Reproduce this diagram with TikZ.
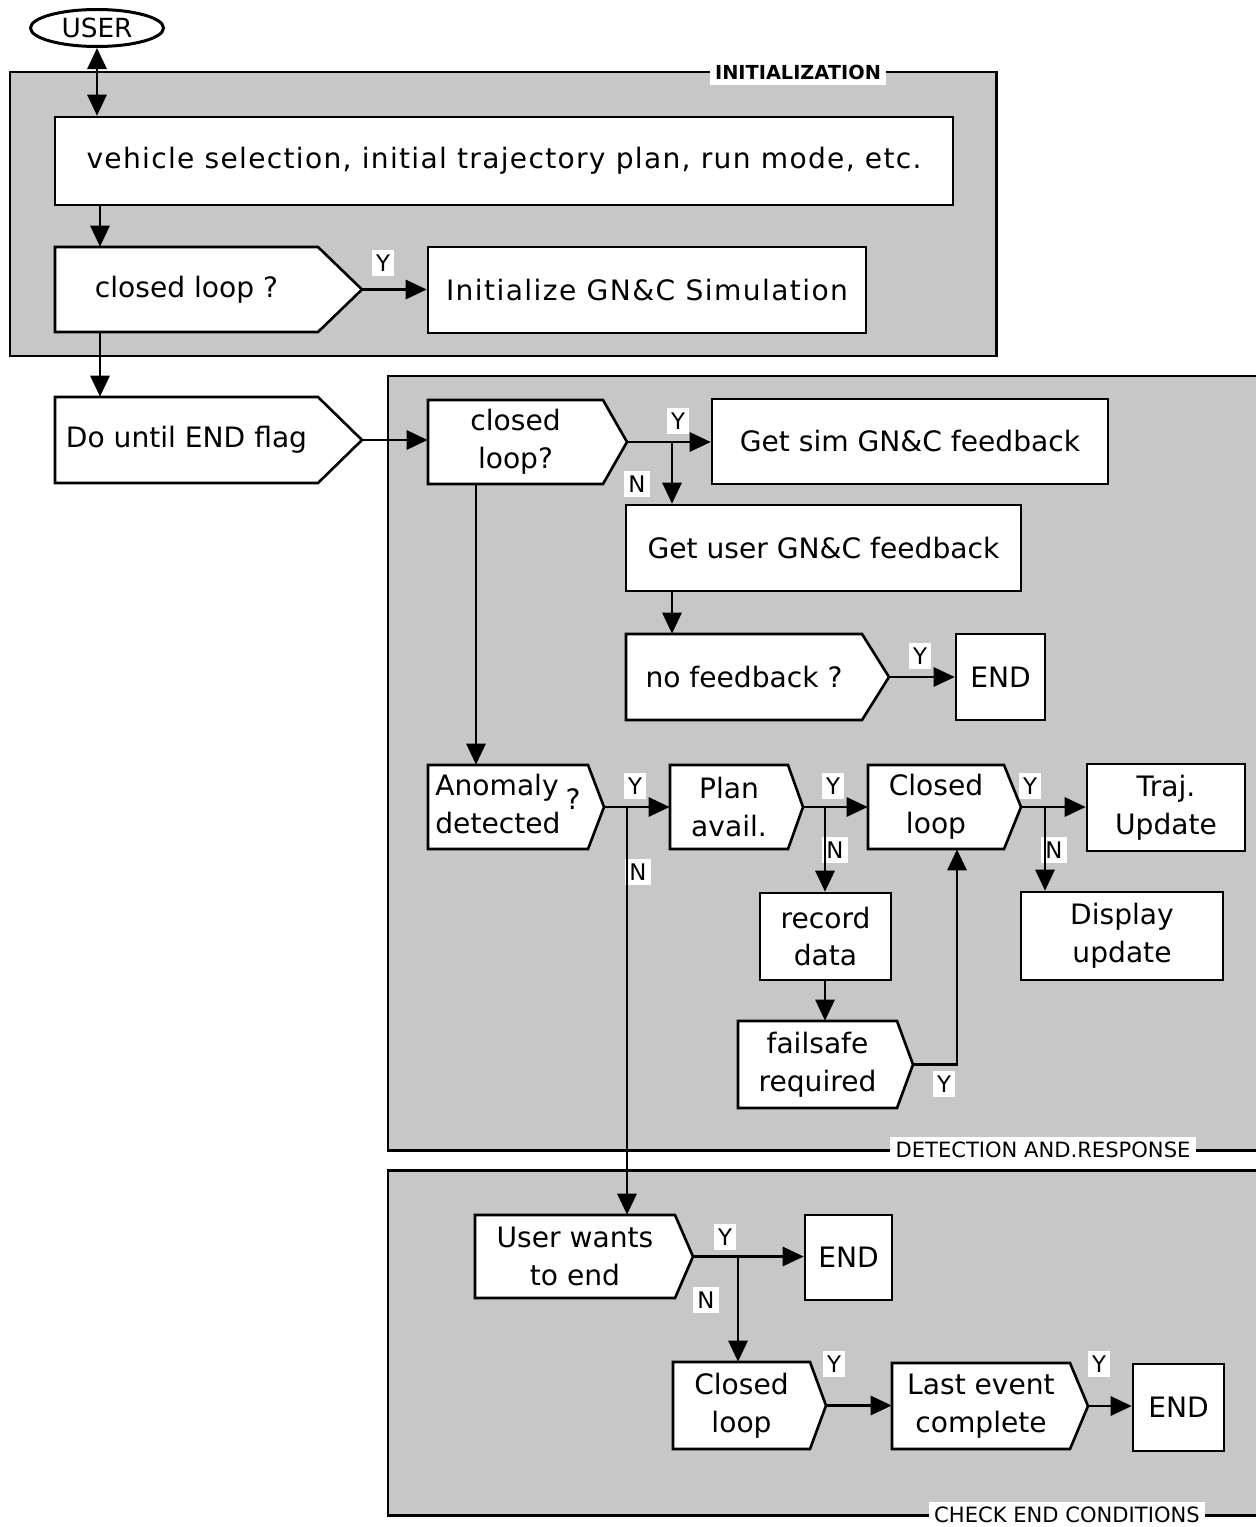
\documentclass[tikz,border=0pt]{standalone}
\usepackage{fontspec}
\setmainfont{DejaVu Sans}
\usetikzlibrary{arrows.meta,shapes.geometric,calc}
\def\pxu{0.56905pt}
\newcommand\mainfs{\fontsize{16}{21.5}\selectfont}
\newcommand\bx[6]{\node[boxst,minimum width={(#4-#2)*\pxu},minimum height={(#5-#3)*\pxu}] (#1) at ({(#2+#4)/2},{(#3+#5)/2}) {#6};}
\newcommand\pent[7]{\draw[shapest] (#2,#3) -- (#6,#3) -- (#4,{(#3+#5)/2}) -- (#6,#5) -- (#2,#5) -- cycle;
 \node[txtst,minimum width={(#6-#2)*\pxu},minimum height={(#5-#3)*\pxu}] (#1) at ({(#2+#6)/2},{(#3+#5)/2}) {#7};
 \coordinate (#1-tip) at (#4,{(#3+#5)/2});}
\tikzset{
 boxst/.style={draw,fill=white,line width=1.5pt,inner sep=0pt,align=center,font=\mainfs},
 shapest/.style={draw,fill=white,line width=1.5pt,line join=miter},
 txtst/.style={inner sep=0pt,align=center,font=\mainfs},
 frame/.style={draw,fill=black!22,line width=1.7pt},
 flabel/.style={fill=white,inner sep=3pt,font=\fontsize{12}{12}\selectfont},
 yn/.style={fill=white,inner sep=2.5pt,font=\fontsize{13}{13}\selectfont},
 arr/.style={line width=1.2pt,-{Triangle[length=12pt,width=11pt]}},
 dbl/.style={line width=1.2pt,{Triangle[length=12pt,width=11pt]}-{Triangle[length=12pt,width=11pt]}},
}
\begin{document}
\begin{tikzpicture}[x=0.02cm,y=-0.02cm]
\path[use as bounding box,fill=white] (0,0) rectangle (1256,1527);
% frames
\draw[frame] (10,72) rectangle (996,356);
\draw[frame] (388,376) rectangle (1270,1150);
\draw[frame] (388,1170) rectangle (1270,1515);
\node[flabel,font=\fontsize{11}{11}\selectfont\bfseries] (tinit) at (798,72) {INITIALIZATION};
\node[flabel] (tdet) at (1043,1150) {DETECTION AND.RESPONSE};
\node[flabel] (tchk) at (1067,1515) {CHECK END CONDITIONS};
% Y / N labels
\node[yn] (y1) at (383,263) {Y};
\node[yn] (y2) at (678,421) {Y};
\node[yn] (n2) at (637,484) {N};
\node[yn] (y3) at (920,656) {Y};
\node[yn] (y4) at (635,786) {Y};
\node[yn] (n4) at (638,872) {N};
\node[yn] (y5) at (833,786) {Y};
\node[yn] (n5) at (835,850) {N};
\node[yn] (y6) at (1030,786) {Y};
\node[yn] (n6) at (1054,850) {N};
\node[yn] (y7) at (944,1084) {Y};
\node[yn] (y8) at (725,1237) {Y};
\node[yn] (n8) at (706,1300) {N};
\node[yn] (y9) at (834,1364) {Y};
\node[yn] (y10) at (1099,1364) {Y};
% x positions of vertical connectors
\coordinate (c1) at (100,0);
\coordinate (c2) at (672,0);
\coordinate (c3) at (476,0);
\coordinate (c4) at (627,0);
\coordinate (c5) at (825,0);
\coordinate (c6) at (1045,0);
\coordinate (c7) at (957,0);
\coordinate (c8) at (738,0);
% nodes
\node[draw,ellipse,fill=white,line width=1.7pt,minimum width={133*\pxu},minimum height={37*\pxu},inner sep=0pt,font=\fontsize{15}{15}\selectfont] (user) at (97,28) {USER};
\bx{vs}{55}{117}{953}{205}{\addfontfeatures{LetterSpace=4.6}vehicle selection, initial trajectory plan, run mode, etc.}
\pent{cl1}{55}{247}{362}{332}{318}{closed loop ?}
\bx{init}{428}{247}{866}{333}{\addfontfeatures{LetterSpace=5}Initialize GN\&C Simulation}
\pent{du}{55}{397}{362}{483}{318}{Do until END flag}
\pent{cl2}{428}{400}{627}{484}{603}{closed\\loop?}
\bx{gs}{712}{399}{1108}{484}{Get sim GN\&C feedback}
\bx{gu}{626}{505}{1021}{591}{Get user GN\&C feedback}
\pent{nf}{626}{634}{889}{720}{862}{no feedback ?}
\bx{e1}{956}{634}{1045}{720}{END}
\pent{an}{428}{765}{604}{849}{588}{\begin{tabular}[c]{@{}l@{}}Anomaly\\detected\end{tabular}\hspace{3pt}\raisebox{3pt}{?}}
\pent{pl}{670}{765}{803}{849}{788}{Plan\\avail.}
\pent{cl3}{868}{765}{1021}{849}{1004}{Closed\\loop}
\bx{tr}{1087}{764}{1245}{851}{Traj.\\Update}
\bx{dp}{1021}{892}{1223}{980}{Display\\update}
\bx{rd}{760}{893}{891}{980}{record\\data}
\pent{fs}{738}{1021}{913}{1108}{897}{failsafe\\required}
\pent{uw}{475}{1215}{693}{1298}{675}{User wants\\to end}
\bx{e2}{805}{1215}{892}{1300}{END}
\pent{cl4}{673}{1362}{826}{1449}{810}{Closed\\loop}
\pent{le}{892}{1363}{1088}{1449}{1070}{Last event\\complete}
\bx{e3}{1133}{1364}{1224}{1451}{END}
% connectors
\draw[dbl] (user) -- (vs.north -| user);
\draw[arr] (vs.south -| c1) -- (cl1.north -| c1);
\draw[arr] (cl1-tip) -- (cl1-tip -| init.west);
\draw[arr] (cl1.south -| c1) -- (du.north -| c1);
\draw[arr] (du-tip) -- (du-tip -| cl2.west);
\draw[arr] (cl2-tip) -- (cl2-tip -| gs.west);
\draw[arr] (cl2-tip -| c2) -- (gu.north -| c2);
\draw[arr] (gu.south -| c2) -- (nf.north -| c2);
\draw[arr] (nf-tip) -- (nf-tip -| e1.west);
\draw[arr] (cl2.south -| c3) -- (an.north -| c3);
\draw[arr] (an-tip) -- (an-tip -| pl.west);
\draw[arr] (an-tip -| c4) -- (uw.north -| c4);
\draw[arr] (pl-tip) -- (pl-tip -| cl3.west);
\draw[arr] (pl-tip -| c5) -- (rd.north -| c5);
\draw[arr] (cl3-tip) -- (cl3-tip -| tr.west);
\draw[arr] (cl3-tip -| c6) -- (dp.north -| c6);
\draw[arr] (rd.south -| c5) -- (fs.north -| c5);
\draw[arr] (fs-tip) -| (cl3.south -| c7);
\draw[arr] (uw-tip) -- (uw-tip -| e2.west);
\draw[arr] (uw-tip -| c8) -- (cl4.north -| c8);
\draw[arr] (cl4-tip) -- (cl4-tip -| le.west);
\draw[arr] (le-tip) -- (le-tip -| e3.west);
\end{tikzpicture}
\end{document}
